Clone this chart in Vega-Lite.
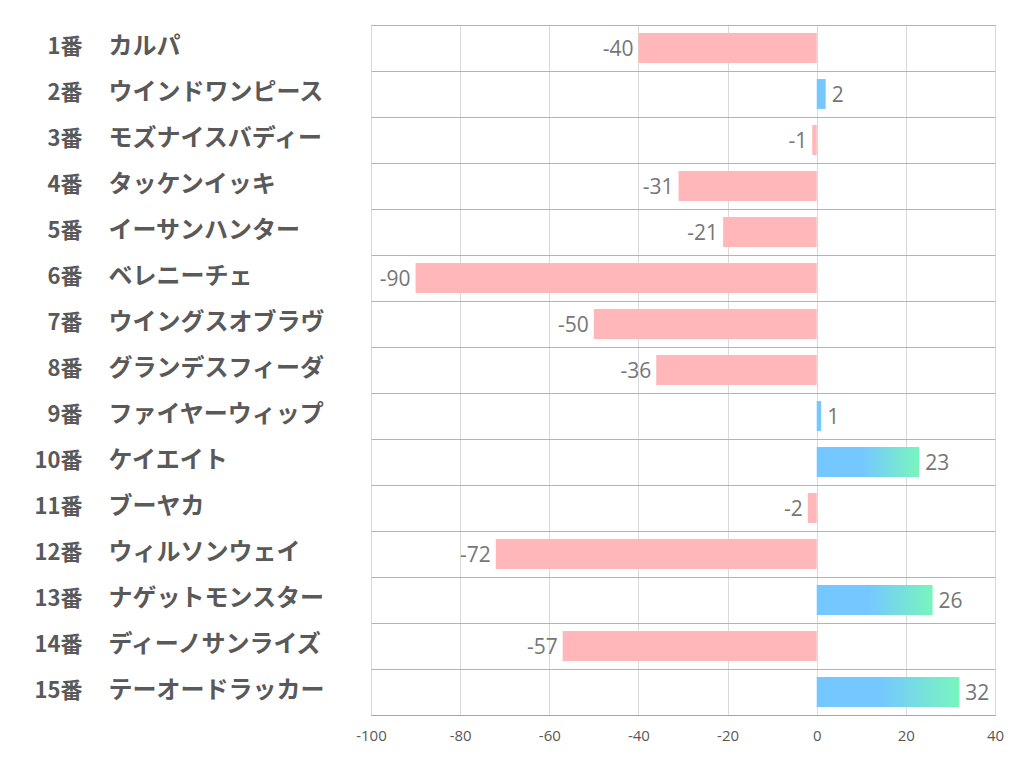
{
  "$schema": "https://vega.github.io/schema/vega-lite/v6.json",
  "autosize": "none",
  "width": 624,
  "height": 690,
  "padding": {"left": 371, "top": 25, "right": 27, "bottom": 67},
  "background": "white",
  "config": {"view": {"stroke": "#b3b3b3", "strokeWidth": 1}},
  "data": {"values": [
    {"no": "1番", "name": "カルパ", "value": -40},
    {"no": "2番", "name": "ウインドワンピース", "value": 2},
    {"no": "3番", "name": "モズナイスバディー", "value": -1},
    {"no": "4番", "name": "タッケンイッキ", "value": -31},
    {"no": "5番", "name": "イーサンハンター", "value": -21},
    {"no": "6番", "name": "ベレニーチェ", "value": -90},
    {"no": "7番", "name": "ウイングスオブラヴ", "value": -50},
    {"no": "8番", "name": "グランデスフィーダ", "value": -36},
    {"no": "9番", "name": "ファイヤーウィップ", "value": 1},
    {"no": "10番", "name": "ケイエイト", "value": 23},
    {"no": "11番", "name": "ブーヤカ", "value": -2},
    {"no": "12番", "name": "ウィルソンウェイ", "value": -72},
    {"no": "13番", "name": "ナゲットモンスター", "value": 26},
    {"no": "14番", "name": "ディーノサンライズ", "value": -57},
    {"no": "15番", "name": "テーオードラッカー", "value": 32}
  ]},
  "encoding": {
    "x": {
      "field": "value", "type": "quantitative",
      "scale": {"domain": [-100, 40], "nice": false, "zero": false},
      "axis": {
        "values": [-100, -80, -60, -40, -20, 0, 20, 40],
        "labelExpr": "'' + datum.value", "labelFlush": false,
        "title": null, "ticks": false, "domain": true, "domainColor": "#a6a6a6",
        "gridColor": "#d9d9d9", "labelColor": "#595959", "labelFont": "Open Sans",
        "labelFontSize": 15, "labelPadding": 13
      }
    }
  },
  "resolve": {"scale": {"y": "independent"}, "axis": {"y": "independent"}},
  "layer": [
    {
      "mark": {"type": "bar", "color": "#ffb7ba", "height": {"band": 0.65}},
      "transform": [{"filter": "datum.value < 0"}],
      "encoding": {
        "y": {"field": "name", "type": "nominal", "sort": null,
          "scale": {"domain": ["カルパ","ウインドワンピース","モズナイスバディー","タッケンイッキ","イーサンハンター","ベレニーチェ","ウイングスオブラヴ","グランデスフィーダ","ファイヤーウィップ","ケイエイト","ブーヤカ","ウィルソンウェイ","ナゲットモンスター","ディーノサンライズ","テーオードラッカー"], "paddingInner": 0, "paddingOuter": 0},
          "axis": {"title": null, "ticks": false, "domain": false, "grid": true, "bandPosition": 0,
            "gridColor": "#b3b3b3", "labelAlign": "left", "labelPadding": 263, "labelLimit": 0,
            "labelFont": "Noto Sans CJK JP", "labelFontWeight": "bold", "labelFontSize": 24,
            "labelColor": "#595959", "labelBaseline": "middle", "labelOffset": -1}
        }
      }
    },
    {
      "mark": {"type": "bar", "color": "#75c8ff", "height": {"band": 0.65}},
      "transform": [{"filter": "datum.value > 0 && datum.value < 10"}],
      "encoding": {
        "y": {"field": "no", "type": "nominal", "sort": null,
          "scale": {"domain": ["1番","2番","3番","4番","5番","6番","7番","8番","9番","10番","11番","12番","13番","14番","15番"], "paddingInner": 0, "paddingOuter": 0},
          "axis": {"title": null, "orient": "left", "ticks": false, "domain": false, "grid": false,
            "labelAlign": "right", "labelPadding": 289, "labelLimit": 0,
            "labelFont": "Noto Sans CJK JP", "labelFontWeight": "bold", "labelFontSize": 22,
            "labelColor": "#595959", "labelBaseline": "middle", "labelOffset": -1}
        }
      }
    },
    {
      "mark": {"type": "bar", "height": {"band": 0.65}, "fill": {"gradient": "linear", "x1": 0, "y1": 0, "x2": 1, "y2": 0,
        "stops": [{"offset": 0, "color": "#75c8ff"}, {"offset": 0.45, "color": "#75c8ff"}, {"offset": 1, "color": "#78f5bd"}]}},
      "transform": [{"filter": "datum.value >= 10"}],
      "encoding": {
        "y": {"field": "no", "type": "nominal", "sort": null,
          "scale": {"domain": ["1番","2番","3番","4番","5番","6番","7番","8番","9番","10番","11番","12番","13番","14番","15番"], "paddingInner": 0, "paddingOuter": 0},
          "axis": null
        }
      }
    },
    {
      "mark": {"type": "text", "align": "right", "dx": -5, "dy": 2, "font": "Open Sans", "fontSize": 21, "color": "#767676"},
      "transform": [{"filter": "datum.value < 0"}],
      "encoding": {
        "y": {"field": "no", "type": "nominal", "sort": null,
          "scale": {"domain": ["1番","2番","3番","4番","5番","6番","7番","8番","9番","10番","11番","12番","13番","14番","15番"], "paddingInner": 0, "paddingOuter": 0},
          "axis": null},
        "text": {"field": "value", "type": "nominal"}
      }
    },
    {
      "mark": {"type": "text", "align": "left", "dx": 6, "dy": 2, "font": "Open Sans", "fontSize": 21, "color": "#767676"},
      "transform": [{"filter": "datum.value > 0"}],
      "encoding": {
        "y": {"field": "no", "type": "nominal", "sort": null,
          "scale": {"domain": ["1番","2番","3番","4番","5番","6番","7番","8番","9番","10番","11番","12番","13番","14番","15番"], "paddingInner": 0, "paddingOuter": 0},
          "axis": null},
        "text": {"field": "value", "type": "nominal"}
      }
    }
  ]
}
